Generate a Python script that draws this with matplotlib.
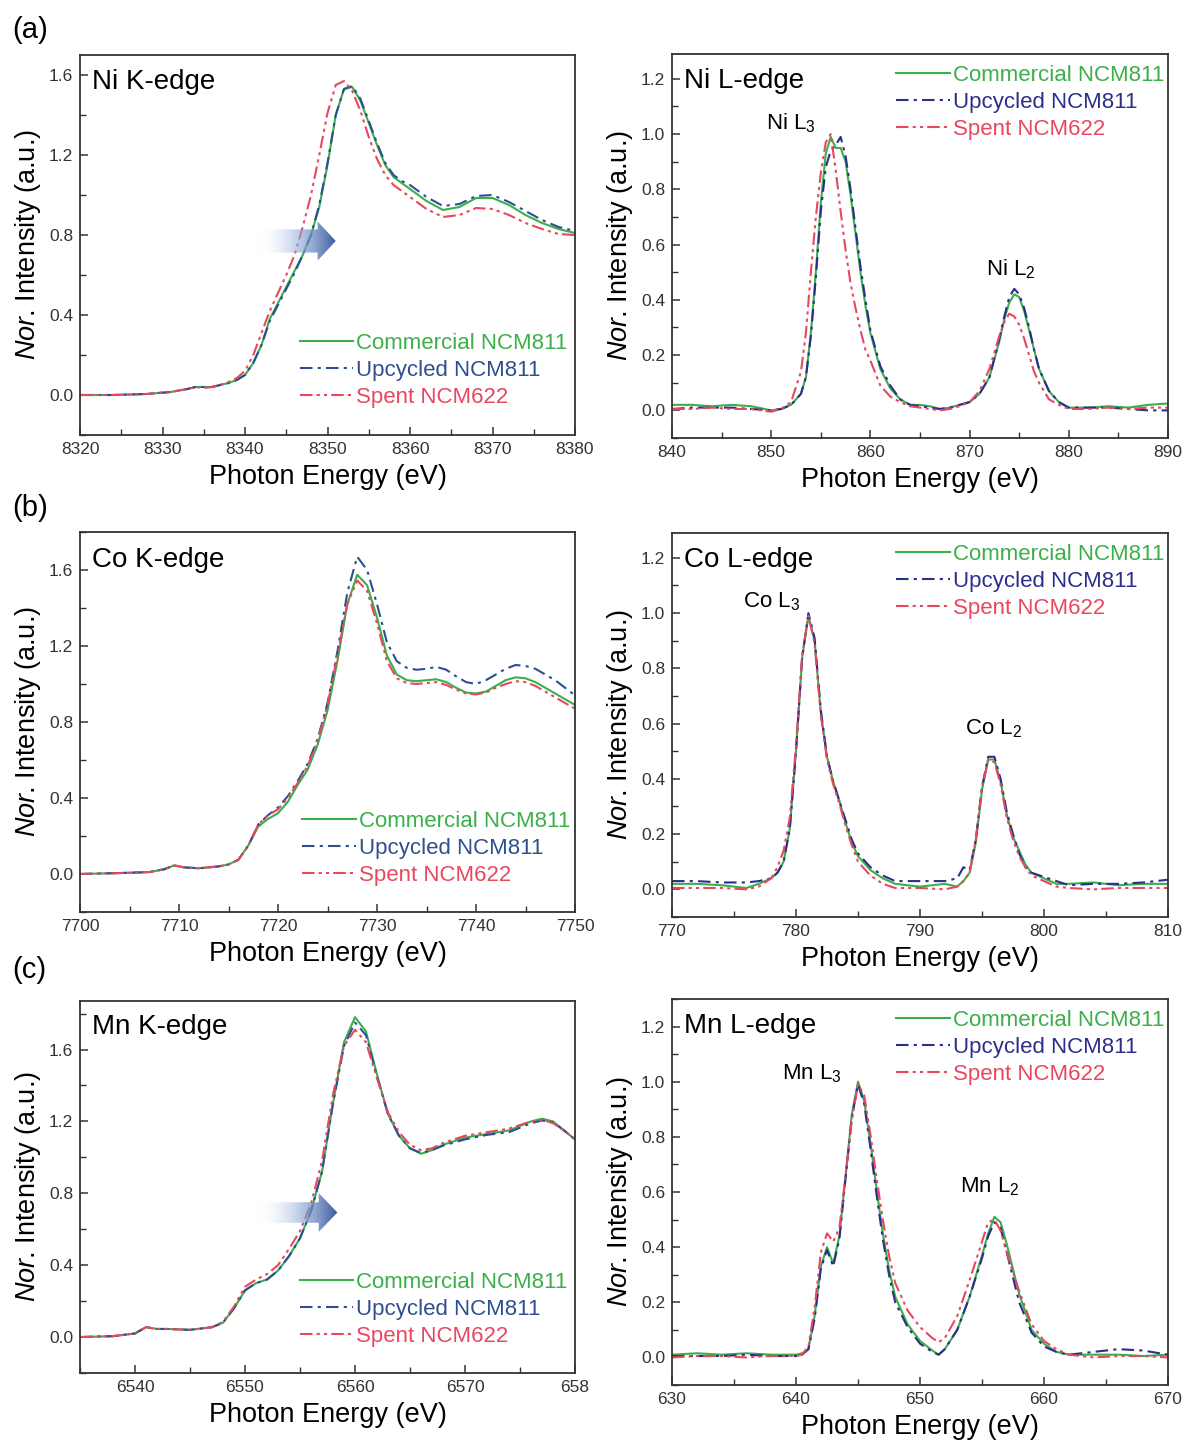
import numpy as np
import matplotlib
matplotlib.use("Agg")
import matplotlib.pyplot as plt
from matplotlib.patches import Polygon
from matplotlib.colors import LinearSegmentedColormap
from matplotlib.ticker import MultipleLocator

plt.rcParams['font.family'] = ['Liberation Sans', 'DejaVu Sans']
plt.rcParams['mathtext.fontset'] = 'custom'
plt.rcParams['mathtext.rm'] = 'Liberation Sans'
plt.rcParams['mathtext.it'] = 'Liberation Sans:italic'

# ---- data ----
series_names = ["Commercial NCM811", "Upcycled NCM811", "Spent NCM622"]

# Ni K-edge
ni_k_x = [8320, 8324, 8328, 8331, 8333, 8334, 8335, 8336, 8337, 8338, 8339, 8340, 8341, 8342,
          8343, 8344, 8345, 8346, 8347, 8348, 8349, 8350, 8351, 8352, 8353, 8354, 8355, 8356,
          8357, 8358, 8359, 8360, 8362, 8364, 8366, 8368, 8370, 8372, 8374, 8376, 8378, 8380]
ni_k_comm = [0.0, 0.0, 0.005, 0.015, 0.03, 0.04, 0.04, 0.04, 0.05, 0.06, 0.075, 0.10, 0.16, 0.25,
             0.38, 0.46, 0.54, 0.62, 0.70, 0.80, 0.94, 1.15, 1.40, 1.53, 1.54, 1.47, 1.36, 1.25,
             1.15, 1.09, 1.06, 1.03, 0.97, 0.925, 0.94, 0.985, 0.985, 0.95, 0.90, 0.86, 0.83, 0.81]
ni_k_upc = [0.0, 0.0, 0.005, 0.015, 0.03, 0.04, 0.04, 0.04, 0.05, 0.06, 0.075, 0.10, 0.16, 0.25,
            0.37, 0.45, 0.53, 0.61, 0.70, 0.80, 0.95, 1.16, 1.40, 1.53, 1.545, 1.48, 1.37, 1.26,
            1.16, 1.10, 1.07, 1.05, 0.99, 0.945, 0.955, 0.995, 1.00, 0.965, 0.92, 0.875, 0.84, 0.82]
ni_k_spent = [0.0, 0.0, 0.005, 0.015, 0.03, 0.04, 0.035, 0.04, 0.05, 0.065, 0.085, 0.12, 0.20, 0.31,
              0.42, 0.51, 0.60, 0.70, 0.84, 1.00, 1.20, 1.41, 1.55, 1.57, 1.52, 1.42, 1.29, 1.18,
              1.10, 1.05, 1.02, 0.99, 0.93, 0.89, 0.90, 0.935, 0.93, 0.90, 0.86, 0.83, 0.805, 0.80]

# Ni L-edge
ni_l_x = [840, 842, 844, 846, 848, 850, 851, 852, 853, 853.5, 854, 854.5, 855, 855.5, 856, 856.5,
          857, 857.5, 858, 858.5, 859, 859.5, 860, 861, 862, 863, 864, 865, 866, 867, 868, 869,
          870, 871, 872, 873, 873.5, 874, 874.5, 875, 875.5, 876, 876.5, 877, 878, 879, 880, 882,
          884, 886, 888, 890]
ni_l_comm = [0.02, 0.02, 0.015, 0.02, 0.015, 0.0, 0.005, 0.02, 0.06, 0.12, 0.28, 0.50, 0.75, 0.93,
             0.99, 0.95, 0.95, 0.90, 0.78, 0.64, 0.50, 0.38, 0.28, 0.15, 0.08, 0.04, 0.02, 0.02,
             0.015, 0.005, 0.01, 0.02, 0.03, 0.06, 0.12, 0.25, 0.33, 0.39, 0.42, 0.41, 0.36, 0.29,
             0.22, 0.15, 0.07, 0.03, 0.01, 0.01, 0.015, 0.01, 0.02, 0.025]
ni_l_upc = [0.005, 0.01, 0.01, 0.01, 0.005, 0.0, 0.005, 0.02, 0.06, 0.12, 0.27, 0.48, 0.72, 0.88,
            0.94, 0.96, 0.99, 0.92, 0.80, 0.66, 0.52, 0.40, 0.29, 0.16, 0.09, 0.04, 0.02, 0.015,
            0.01, 0.005, 0.01, 0.02, 0.03, 0.06, 0.12, 0.26, 0.34, 0.41, 0.44, 0.42, 0.37, 0.30,
            0.22, 0.15, 0.07, 0.03, 0.01, 0.01, 0.01, 0.005, 0.0, 0.0]
ni_l_spent = [0.005, 0.005, 0.01, 0.005, 0.005, -0.005, 0.005, 0.03, 0.14, 0.28, 0.50, 0.70, 0.86,
              0.97, 1.0, 0.87, 0.72, 0.58, 0.46, 0.37, 0.29, 0.22, 0.18, 0.09, 0.05, 0.03, 0.015,
              0.01, 0.005, 0.0, 0.005, 0.015, 0.03, 0.07, 0.15, 0.27, 0.32, 0.35, 0.34, 0.31, 0.26,
              0.20, 0.14, 0.10, 0.04, 0.02, 0.005, 0.005, 0.01, 0.005, 0.01, 0.01]

# Co K-edge
co_k_x = [7700, 7704, 7707, 7708.5, 7709.5, 7710.5, 7712, 7714, 7715, 7716, 7717, 7718, 7719, 7720,
          7721, 7722, 7723, 7724, 7725, 7726, 7727, 7728, 7729, 7730, 7731, 7732, 7733, 7734, 7735,
          7736, 7737, 7738, 7739, 7740, 7741, 7742, 7743, 7744, 7745, 7746, 7748, 7750]
co_k_comm = [0.0, 0.005, 0.01, 0.025, 0.045, 0.035, 0.03, 0.04, 0.05, 0.075, 0.15, 0.25, 0.29, 0.32,
             0.38, 0.47, 0.55, 0.68, 0.86, 1.12, 1.42, 1.575, 1.52, 1.35, 1.15, 1.05, 1.02, 1.015,
             1.02, 1.025, 1.01, 0.98, 0.955, 0.95, 0.96, 0.99, 1.02, 1.035, 1.03, 1.01, 0.95, 0.89]
co_k_upc = [0.0, 0.005, 0.01, 0.025, 0.045, 0.035, 0.03, 0.04, 0.05, 0.075, 0.15, 0.26, 0.31, 0.35,
            0.41, 0.49, 0.58, 0.71, 0.90, 1.17, 1.48, 1.67, 1.60, 1.42, 1.22, 1.12, 1.085, 1.075,
            1.08, 1.09, 1.075, 1.04, 1.01, 1.00, 1.02, 1.05, 1.08, 1.10, 1.095, 1.08, 1.02, 0.94]
co_k_spent = [0.0, 0.005, 0.01, 0.025, 0.045, 0.035, 0.03, 0.04, 0.05, 0.075, 0.15, 0.26, 0.31, 0.34,
              0.40, 0.48, 0.57, 0.70, 0.89, 1.15, 1.42, 1.545, 1.49, 1.32, 1.12, 1.03, 1.005, 1.0,
              1.005, 1.01, 0.995, 0.97, 0.95, 0.945, 0.955, 0.98, 1.0, 1.015, 1.01, 0.99, 0.93, 0.87]

# Co L-edge
co_l_x = [770, 772, 774, 776, 777, 778, 778.5, 779, 779.5, 780, 780.5, 781, 781.5, 782, 782.5, 783,
          783.5, 784, 784.5, 785, 786, 787, 788, 790, 792, 793, 793.5, 794, 794.5, 795, 795.5, 796,
          796.5, 797, 797.5, 798, 798.5, 799, 800, 801, 802, 804, 806, 808, 810]
co_l_comm = [0.02, 0.02, 0.015, 0.005, 0.02, 0.04, 0.06, 0.10, 0.22, 0.50, 0.84, 0.99, 0.90, 0.64,
             0.48, 0.39, 0.32, 0.24, 0.17, 0.12, 0.07, 0.04, 0.02, 0.01, 0.02, 0.01, 0.03, 0.06,
             0.17, 0.36, 0.47, 0.47, 0.39, 0.27, 0.19, 0.14, 0.09, 0.06, 0.04, 0.02, 0.02, 0.025,
             0.015, 0.02, 0.02]
co_l_upc = [0.03, 0.03, 0.025, 0.025, 0.03, 0.04, 0.06, 0.10, 0.22, 0.50, 0.84, 1.0, 0.91, 0.65,
            0.48, 0.39, 0.32, 0.25, 0.18, 0.13, 0.08, 0.05, 0.03, 0.03, 0.03, 0.04, 0.08, 0.07,
            0.18, 0.37, 0.48, 0.48, 0.40, 0.28, 0.20, 0.13, 0.08, 0.06, 0.045, 0.03, 0.015, 0.02,
            0.02, 0.025, 0.035]
co_l_spent = [0.005, 0.005, 0.005, 0.0, 0.01, 0.04, 0.08, 0.14, 0.26, 0.52, 0.85, 0.99, 0.89, 0.63,
              0.47, 0.38, 0.31, 0.23, 0.16, 0.10, 0.05, 0.02, 0.005, 0.005, 0.0, 0.01, 0.03, 0.06,
              0.18, 0.37, 0.47, 0.46, 0.38, 0.26, 0.18, 0.12, 0.08, 0.05, 0.03, 0.01, 0.005, 0.0,
              0.005, 0.005, 0.005]

# Mn K-edge
mn_k_x = [6535, 6538, 6540, 6541, 6542, 6543, 6545, 6547, 6548, 6549, 6550, 6551, 6552, 6553, 6554,
          6555, 6556, 6557, 6558, 6559, 6560, 6561, 6562, 6563, 6564, 6565, 6566, 6567, 6568, 6570,
          6572, 6574, 6576, 6577, 6578, 6579, 6580]
mn_k_comm = [0.0, 0.005, 0.02, 0.055, 0.045, 0.045, 0.04, 0.055, 0.08, 0.16, 0.26, 0.30, 0.32, 0.37,
             0.45, 0.55, 0.70, 0.92, 1.30, 1.64, 1.78, 1.70, 1.46, 1.24, 1.12, 1.05, 1.02, 1.04,
             1.07, 1.11, 1.13, 1.15, 1.20, 1.215, 1.20, 1.15, 1.10]
mn_k_upc = [0.0, 0.005, 0.02, 0.055, 0.045, 0.045, 0.04, 0.055, 0.08, 0.16, 0.26, 0.30, 0.32, 0.37,
            0.45, 0.55, 0.70, 0.92, 1.30, 1.62, 1.75, 1.68, 1.45, 1.24, 1.12, 1.05, 1.025, 1.04,
            1.065, 1.10, 1.125, 1.14, 1.19, 1.205, 1.195, 1.15, 1.10]
mn_k_spent = [0.0, 0.005, 0.02, 0.055, 0.045, 0.045, 0.04, 0.055, 0.085, 0.17, 0.28, 0.32, 0.35,
              0.40, 0.49, 0.59, 0.74, 0.98, 1.35, 1.62, 1.71, 1.64, 1.44, 1.25, 1.14, 1.07, 1.04,
              1.05, 1.08, 1.12, 1.14, 1.16, 1.20, 1.21, 1.19, 1.15, 1.10]

# Mn L-edge
mn_l_x = [630, 632, 634, 636, 638, 640, 640.5, 641, 641.5, 642, 642.5, 643, 643.5, 644, 644.5, 645,
          645.5, 646, 646.5, 647, 647.5, 648, 649, 650, 651, 651.5, 652, 653, 654, 655, 655.5, 656,
          656.5, 657, 658, 659, 660, 661, 662, 664, 666, 668, 670]
mn_l_comm = [0.01, 0.015, 0.01, 0.015, 0.01, 0.01, 0.015, 0.03, 0.15, 0.33, 0.40, 0.34, 0.44, 0.66,
             0.88, 1.0, 0.93, 0.78, 0.61, 0.45, 0.32, 0.22, 0.12, 0.06, 0.025, 0.01, 0.03, 0.10,
             0.22, 0.37, 0.45, 0.51, 0.49, 0.41, 0.23, 0.10, 0.05, 0.02, 0.01, 0.01, 0.01, 0.005, 0.01]
mn_l_upc = [0.005, 0.005, 0.005, 0.01, 0.005, 0.005, 0.01, 0.03, 0.14, 0.32, 0.39, 0.33, 0.43, 0.65,
            0.87, 0.99, 0.92, 0.76, 0.59, 0.43, 0.30, 0.20, 0.11, 0.05, 0.02, 0.01, 0.03, 0.10,
            0.22, 0.36, 0.44, 0.49, 0.47, 0.38, 0.20, 0.09, 0.04, 0.02, 0.01, 0.02, 0.03, 0.025, 0.01]
mn_l_spent = [0.0, 0.005, 0.005, 0.0, 0.005, 0.005, 0.01, 0.04, 0.18, 0.38, 0.45, 0.42, 0.47, 0.66,
              0.86, 0.99, 0.95, 0.81, 0.65, 0.50, 0.37, 0.27, 0.17, 0.11, 0.07, 0.055, 0.07, 0.15,
              0.28, 0.42, 0.49, 0.50, 0.46, 0.38, 0.24, 0.12, 0.06, 0.03, 0.01, 0.0, 0.005, 0.005, 0.0]

# ---- styling ----
green = '#3aaf4a'
blue_k = '#2e4f8f'
blue_l = '#2a2f8c'
red = '#e8475f'
dash_dot = (0, (6, 2.5, 1.5, 2.5))
dash_dot_dot = (0, (6, 2, 1.5, 2, 1.5, 2))


def style_axes(ax, xlim, ylim, xmajor, ymajor, yminor):
    ax.set_xlim(*xlim)
    ax.set_ylim(*ylim)
    ax.xaxis.set_major_locator(MultipleLocator(xmajor))
    ax.xaxis.set_minor_locator(MultipleLocator(xmajor / 2))
    ax.yaxis.set_major_locator(MultipleLocator(ymajor))
    ax.yaxis.set_minor_locator(MultipleLocator(yminor))
    ax.yaxis.set_major_formatter(matplotlib.ticker.FormatStrFormatter('%.1f'))
    ax.tick_params(which='both', direction='in', labelsize=12.5, colors='#333333', pad=5)
    ax.tick_params(which='major', length=6, width=1.1)
    ax.tick_params(which='minor', length=4, width=1.0)
    for s in ax.spines.values():
        s.set_linewidth(1.3)
        s.set_color('#333333')
    ax.set_xlabel('Photon Energy (eV)', fontsize=19.5, labelpad=5)
    ax.set_ylabel(r'$\mathit{Nor}$. Intensity (a.u.)', fontsize=19.5, labelpad=4)


def plot_three(ax, x, ys, blue):
    cols = [green, blue, red]
    styles = ['-', dash_dot, dash_dot_dot]
    for y, c, ls, name in zip(ys, cols, styles, series_names):
        ax.plot(x, y, color=c, linestyle=ls, linewidth=1.5, label=name)


def add_legend(ax, loc, anchor):
    leg = ax.legend(loc=loc, bbox_to_anchor=anchor, frameon=False, fontsize=16,
                    handlelength=2.4, handletextpad=0.15, labelspacing=0.27,
                    borderpad=0.1, borderaxespad=0.0)
    for t, ln in zip(leg.get_texts(), leg.get_lines()):
        t.set_color(ln.get_color())


def gradient_arrow(ax, x0, x1, x2, yc, hb, hh):
    # body from x0 to x1, head from x1 to tip x2
    pts = [(x0, yc - hb), (x1, yc - hb), (x1, yc - hh), (x2, yc),
           (x1, yc + hh), (x1, yc + hb), (x0, yc + hb)]
    poly = Polygon(pts, closed=True, facecolor='none', edgecolor='none', transform=ax.transData)
    ax.add_patch(poly)
    cmap = LinearSegmentedColormap.from_list('arr', [(1, 1, 1, 0.0), (0.6, 0.7, 0.87, 0.6),
                                                       (0.17, 0.31, 0.6, 0.95)])
    grad = np.linspace(0, 1, 256).reshape(1, -1)
    im = ax.imshow(grad, cmap=cmap, extent=[x0, x2, yc - hh, yc + hh], aspect='auto',
                   interpolation='bicubic', zorder=3)
    im.set_clip_path(poly)


W, H = 1186, 1443
fig = plt.figure(figsize=(W / 100, H / 100), dpi=100)


def axes_px(x0, y0, x1, y1):
    return fig.add_axes([x0 / W, 1 - y1 / H, (x1 - x0) / W, (y1 - y0) / H])


# (a) Ni
ax = axes_px(80, 55, 575, 435)
plot_three(ax, ni_k_x, [ni_k_comm, ni_k_upc, ni_k_spent], blue_k)
style_axes(ax, (8320, 8380), (-0.2, 1.7), 10, 0.4, 0.2)
gradient_arrow(ax, 8341.3, 8348.8, 8351.0, 0.77, 0.058, 0.098)
ax.text(0.024, 0.93, 'Ni K-edge', transform=ax.transAxes, fontsize=20, va='center')
add_legend(ax, 'lower right', (0.99, 0.066))

ax = axes_px(672, 54, 1168, 438)
plot_three(ax, ni_l_x, [ni_l_comm, ni_l_upc, ni_l_spent], blue_l)
style_axes(ax, (840, 890), (-0.1, 1.29), 10, 0.2, 0.1)
ax.text(0.024, 0.93, 'Ni L-edge', transform=ax.transAxes, fontsize=20, va='center')
ax.text(852.0, 1.04, r'Ni L$_3$', fontsize=16, ha='center', va='center')
ax.text(874.2, 0.51, r'Ni L$_2$', fontsize=16, ha='center', va='center')
add_legend(ax, 'upper right', (0.997, 0.977))

# (b) Co
ax = axes_px(80, 532, 575, 912)
plot_three(ax, co_k_x, [co_k_comm, co_k_upc, co_k_spent], blue_k)
style_axes(ax, (7700, 7750), (-0.2, 1.8), 10, 0.4, 0.2)
ax.text(0.024, 0.926, 'Co K-edge', transform=ax.transAxes, fontsize=20, va='center')
add_legend(ax, 'lower right', (0.995, 0.063))

ax = axes_px(672, 533, 1168, 917)
plot_three(ax, co_l_x, [co_l_comm, co_l_upc, co_l_spent], blue_l)
style_axes(ax, (770, 810), (-0.1, 1.29), 10, 0.2, 0.1)
ax.text(0.024, 0.93, 'Co L-edge', transform=ax.transAxes, fontsize=20, va='center')
ax.text(778.0, 1.04, r'Co L$_3$', fontsize=16, ha='center', va='center')
ax.text(795.9, 0.58, r'Co L$_2$', fontsize=16, ha='center', va='center')
add_legend(ax, 'upper right', (0.997, 0.977))

# (c) Mn
ax = axes_px(80, 1001, 575, 1373)
plot_three(ax, mn_k_x, [mn_k_comm, mn_k_upc, mn_k_spent], blue_k)
style_axes(ax, (6535, 6580), (-0.2, 1.87), 10, 0.4, 0.2)
ax.set_xticks([6540, 6550, 6560, 6570, 6580])
ax.set_xticklabels(['6540', '6550', '6560', '6570', '658'])
gradient_arrow(ax, 6551.1, 6556.7, 6558.4, 0.693, 0.057, 0.108)
ax.text(0.024, 0.93, 'Mn K-edge', transform=ax.transAxes, fontsize=20, va='center')
add_legend(ax, 'lower right', (0.99, 0.064))

ax = axes_px(672, 999, 1168, 1385)
plot_three(ax, mn_l_x, [mn_l_comm, mn_l_upc, mn_l_spent], blue_l)
style_axes(ax, (630, 670), (-0.1, 1.3), 10, 0.2, 0.1)
ax.text(0.024, 0.93, 'Mn L-edge', transform=ax.transAxes, fontsize=20, va='center')
ax.text(641.3, 1.03, r'Mn L$_3$', fontsize=16, ha='center', va='center')
ax.text(655.6, 0.62, r'Mn L$_2$', fontsize=16, ha='center', va='center')
add_legend(ax, 'upper right', (0.997, 0.977))

# panel letters
for lbl, ypx in [('(a)', 30), ('(b)', 508), ('(c)', 970)]:
    fig.text(12 / W, 1 - ypx / H, lbl, fontsize=21, va='center', ha='left')

fig.savefig('out.png', dpi=100)
